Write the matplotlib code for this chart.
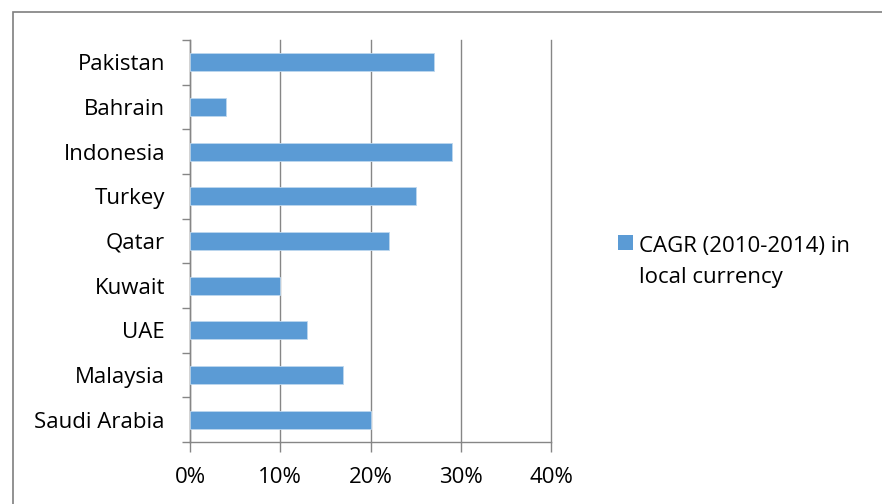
import matplotlib
matplotlib.use("Agg")
import matplotlib.pyplot as plt
from matplotlib.patches import Rectangle
from matplotlib.ticker import FixedLocator, PercentFormatter

plt.rcParams['font.family'] = ['Open Sans', 'DejaVu Sans']

countries = ["Saudi Arabia", "Malaysia", "UAE", "Kuwait", "Qatar", "Turkey",
             "Indonesia", "Bahrain", "Pakistan"]
cagr = [20, 17, 13, 10, 22, 25, 29, 4, 27]
series_name = "CAGR (2010-2014) in\nlocal currency"
x_ticks = [0, 10, 20, 30, 40]

bar_color = "#5B9BD5"
grid_color = "#868686"
text_color = "#000000"
fs = 16

fig = plt.figure(figsize=(8.82, 5.04), dpi=100)
# outer chart border
fig.patches.append(Rectangle((13 / 882, -0.1), 1.2, 1 - 12 / 504 + 0.1,
                             transform=fig.transFigure, fill=False,
                             edgecolor="#7F7F7F", linewidth=1.2))

ax = fig.add_axes([190 / 882, 1 - 442 / 504, (551 - 190) / 882, (442 - 40) / 504])
ypos = list(range(len(countries)))
ax.barh(ypos, cagr, height=0.4, color=bar_color, edgecolor="#BDD7EE",
        linewidth=0.6, zorder=3, label=series_name)
ax.set_xlim(0, 40)
ax.set_ylim(-0.5, len(countries) - 0.5)
ax.set_yticks(ypos)
ax.set_yticklabels(countries, fontsize=fs, color=text_color)
ax.yaxis.set_minor_locator(FixedLocator([i - 0.5 for i in range(len(countries) + 1)]))
ax.tick_params(axis="y", which="major", length=0, pad=18)
ax.tick_params(axis="y", which="minor", length=6, color=grid_color, width=1)
ax.set_xticks(x_ticks)
ax.xaxis.set_major_formatter(PercentFormatter(decimals=0))
ax.tick_params(axis="x", which="major", length=7, color=grid_color, width=1,
               labelsize=fs, pad=11, labelcolor=text_color)
ax.grid(axis="x", color=grid_color, linewidth=1, zorder=0)
for gl in ax.get_xgridlines():
    gl.set_clip_on(False)
for s in ["top", "right"]:
    ax.spines[s].set_visible(False)
for s in ["left", "bottom"]:
    ax.spines[s].set_color(grid_color)
    ax.spines[s].set_linewidth(1)

# legend
fig.patches.append(Rectangle((618 / 882, 1 - 250 / 504), 15 / 882, 15 / 504,
                             transform=fig.transFigure, facecolor=bar_color,
                             edgecolor="none"))
for i, line in enumerate(series_name.split("\n")):
    fig.text(639 / 882, 1 - (252 + 31 * i) / 504, line, fontsize=fs,
             color=text_color, ha="left", va="baseline")

fig.savefig("out.png", dpi=100)
